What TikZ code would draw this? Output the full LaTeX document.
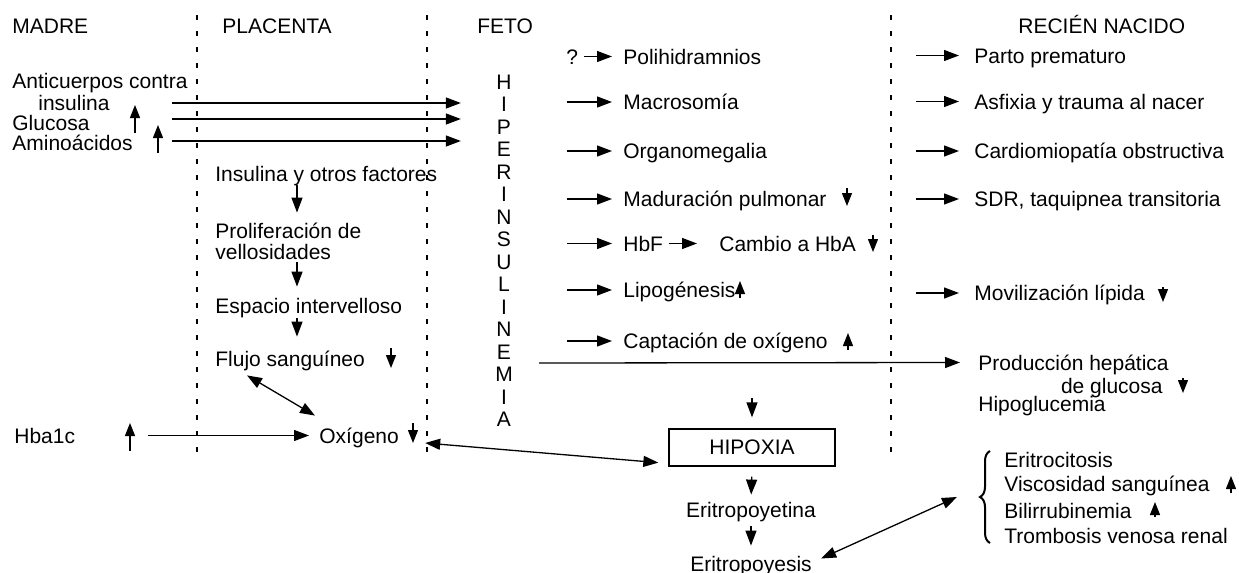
\documentclass[tikz,border=0pt]{standalone}
\usepackage{fontspec}
\setmainfont{Liberation Sans}
\usetikzlibrary{arrows.meta,decorations.pathreplacing}

\begin{document}
\begin{tikzpicture}[
    x=0.5pt, y=-0.5pt,
    every node/.style={font=\fontsize{10.5}{12}\selectfont},
    lbl/.style={anchor=west, inner sep=0pt, text height=7.5pt, text depth=0pt},
    flow/.style={-{Triangle[length=7.5pt,width=5.5pt]}, line width=0.65pt},
    dflow/.style={{Triangle[length=7.5pt,width=5.5pt]}-{Triangle[length=7.5pt,width=5.5pt]}, line width=0.65pt},
    levelArrow/.style={-{Triangle[length=6.5pt,width=5pt]}, line width=0.65pt},
    zoneLine/.style={line width=0.65pt, dash pattern=on 2.5pt off 5.5pt}
]
    \useasboundingbox (0,0) rectangle (1239,573);

    % Separadores de zona
    \draw[zoneLine] (197,15) -- (197,455);
    \draw[zoneLine] (427,15) -- (427,455);
    \draw[zoneLine] (891,15) -- (891,455);

    % Encabezados
    \node[lbl] (madre) at (12,25.5) {MADRE};
    \node[lbl] (placenta) at (222,25.5) {PLACENTA};
    \node[lbl] (feto) at (477,25.5) {FETO};
    \node[lbl] (recien) at (1018,25.5) {RECIÉN NACIDO};

    % Madre
    \node[lbl] (anti) at (12,81) {Anticuerpos contra};
    \node[lbl] (insu) at (38,102.5) {insulina};
    \node[lbl] (gluc) at (12,122.5) {Glucosa};
    \node[lbl] (amino) at (12,142.5) {Aminoácidos};
    \node[lbl] (hba) at (14,435.5) {Hba1c};

    % Hiperinsulinemia fetal
    \node[inner sep=0pt, align=center, font=\fontsize{10.5}{11.25}\selectfont] (hiper) at (504,251)
        {H\\I\\P\\E\\R\\I\\N\\S\\U\\L\\I\\N\\E\\M\\I\\A};

    \draw[flow, shorten >=17pt] (172,103) -- (172,103 -| hiper.west);
    \draw[flow, shorten >=17pt] (172,119) -- (172,119 -| hiper.west);
    \draw[flow, shorten >=17pt] (172,141) -- (172,141 -| hiper.west);

    % Placenta
    \node[lbl] (factores) at (215,173.5) {Insulina y otros factores};
    \node[lbl] (prolif) at (215,230.5) {Proliferación de};
    \node[lbl] (vello) at (215,251.5) {vellosidades};
    \node[lbl] (espacio) at (215,305.5) {Espacio intervelloso};
    \node[lbl] (flujo) at (215,358.5) {Flujo sanguíneo};
    \node[lbl] (oxi) at (319,435.5) {Oxígeno};

    \coordinate (pc) at (297,0);
    \draw[flow, shorten <=2pt, shorten >=5pt] (factores.south -| pc) -- (prolif.north -| pc);
    \draw[flow, shorten <=1.5pt, shorten >=5.5pt] (vello.south -| pc) -- (espacio.north -| pc);
    \draw[flow, shorten <=2.5pt, shorten >=7pt] (espacio.south -| pc) -- (flujo.north -| pc);
    \draw[dflow] ([shift={(32,9)}]flujo.south west) -- ([shift={(-4,-12)}]oxi.north west);
    \draw[flow] ([xshift=36pt]hba.east) -- ([xshift=-5pt]oxi.west);

    % Feto
    \node[lbl] (qm) at (566,56.5) {?};
    \node[lbl] (poli) at (623,56.5) {Polihidramnios};
    \node[lbl] (macro) at (623,102) {Macrosomía};
    \node[lbl] (organo) at (623,151) {Organomegalia};
    \node[lbl] (madur) at (623,199) {Maduración pulmonar};
    \node[lbl] (hbf) at (623,243.5) {HbF};
    \node[lbl] (cambio) at (719,243.5) {Cambio a HbA};
    \node[lbl] (lipo) at (623,290) {Lipogénesis};
    \node[lbl] (capta) at (623,341) {Captación de oxígeno};

    \draw[flow] ([xshift=3pt]qm.east) -- ([xshift=-5.5pt]poli.west);
    \draw[flow] (macro.west) ++(-56,0) -- ++(45,0);
    \draw[flow] (organo.west) ++(-56,0) -- ++(45,0);
    \draw[flow] (madur.west) ++(-56,0) -- ++(45,0);
    \draw[flow] (hbf.west) ++(-56,0) -- ++(45,0);
    \draw[flow] ([xshift=3pt]hbf.east) -- ([xshift=-11pt]cambio.west);
    \draw[flow] (lipo.west) ++(-56,0) -- ++(45,0);
    \draw[flow] (capta.west) ++(-56,0) -- ++(45,0);

    % Hipoxia y eritropoyesis
    \node[draw, line width=0.65pt, minimum width=83pt, minimum height=18.5pt, inner sep=0pt,
          font=\fontsize{10.5}{12}\selectfont] (hipoxia) at (752,447.5) {HIPOXIA};
    \node[lbl, anchor=center] (epo) at (751,509.5) {Eritropoyetina};
    \node[lbl, anchor=center] (eritro) at (751,563.5) {Eritropoyesis};

    \draw[flow, shorten >=5.5pt] (752,398) -- (hipoxia.north);
    \draw[flow, shorten <=5pt, shorten >=3.5pt] (hipoxia.south) -- (epo.north);
    \draw[flow, shorten <=4.5pt, shorten >=5pt] (epo.south) -- (eritro.north);
    \draw[dflow] ([xshift=13pt]oxi.east |- 0,443) -- ([shift={(-10,-4)}]hipoxia.south west);

    % Recien nacido
    \node[lbl] (parto) at (974,55.5) {Parto prematuro};
    \node[lbl] (asfix) at (974,101.5) {Asfixia y trauma al nacer};
    \node[lbl] (cardio) at (974,151) {Cardiomiopatía obstructiva};
    \node[lbl] (sdr) at (974,199) {SDR, taquipnea transitoria};
    \node[lbl] (movil) at (974,293) {Movilización lípida};
    \node[lbl] (prod) at (978,362.5) {Producción hepática};
    \node[lbl, anchor=east] (glucprod) at (1163,385.5) {de glucosa};
    \node[lbl] (hipog) at (978,403.5) {Hipoglucemia};

    \draw[flow] (parto.west) ++(-58,0) -- ++(43,0);
    \draw[flow] (asfix.west) ++(-58,0) -- ++(43,0);
    \draw[flow] (cardio.west) ++(-58,0) -- ++(43,0);
    \draw[flow] (sdr.west) ++(-58,0) -- ++(43,0);
    \draw[flow] (movil.west) ++(-58,0) -- ++(43,0);
    \draw[flow] (539,363) -- ([xshift=-9pt]prod.west);

    % Consecuencias de la eritrocitosis
    \node[lbl] (eritrocit) at (1004,459.5) {Eritrocitosis};
    \node[lbl] (visco) at (1004,484) {Viscosidad sanguínea};
    \node[lbl] (bili) at (1004,510.5) {Bilirrubinemia};
    \node[lbl] (trombo) at (1004,535.5) {Trombosis venosa renal};
    \draw[decorate, decoration={brace, amplitude=5pt}, line width=1pt] (990,543) -- (990,451);
    \coordinate (brc) at (957,497);
    \draw[dflow] ([shift={(9,-5)}]eritro.east) -- (brc);

    % Flechas de aumento / disminucion
    \draw[levelArrow] (135,133) -- (135,105);
    \draw[levelArrow] (158,153) -- (158,125);
    \draw[levelArrow] (130,451) -- (130,423);
    \draw[levelArrow] (740,298) -- (740,281);
    \draw[levelArrow] (848,350) -- (848,333);
    \draw[levelArrow] (1231,493) -- (1231,476);
    \draw[levelArrow] (1155,517) -- (1155,502);
    \draw[levelArrow] (391,348) -- (391,368);
    \draw[levelArrow] (413,423) -- (413,443);
    \draw[levelArrow] (847,188) -- (847,206);
    \draw[levelArrow] (873,235) -- (873,252);
    \draw[levelArrow] (1163,287) -- (1163,302);
    \draw[levelArrow] (1183,378) -- (1183,393);
\end{tikzpicture}
\end{document}
